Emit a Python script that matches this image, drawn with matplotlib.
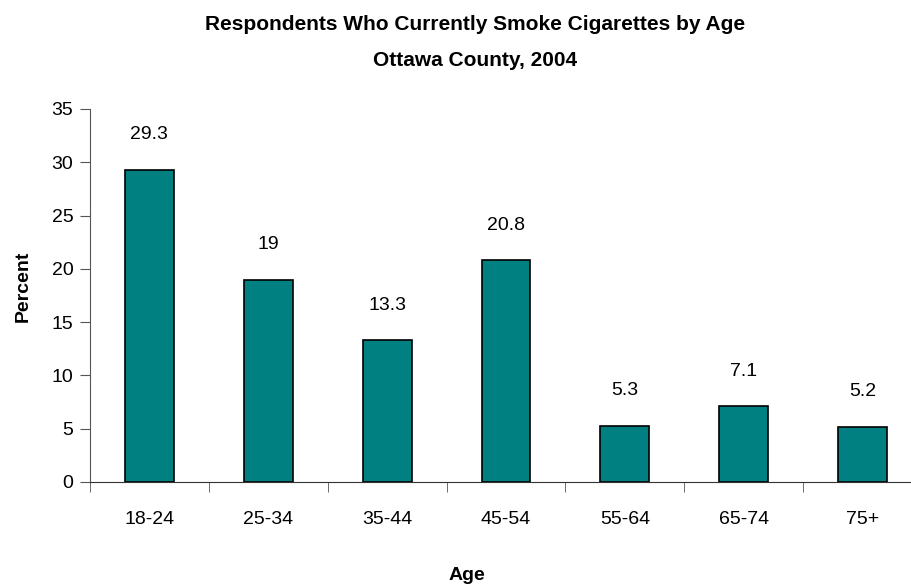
import matplotlib.pyplot as plt
import numpy as np

# Data
ages = ['18-24', '25-34', '35-44', '45-54', '55-64', '65-74', '75+']
percent = [29.3, 19, 13.3, 20.8, 5.3, 7.1, 5.2]
value_labels = ['29.3', '19', '13.3', '20.8', '5.3', '7.1', '5.2']

plt.rcParams['font.family'] = ['Liberation Sans', 'DejaVu Sans']

W, H = 911, 584
fig = plt.figure(figsize=(W / 100, H / 100), dpi=100)
# plot area runs a little past the right edge of the figure
ax = fig.add_axes([90 / W, 1 - 482 / H, 832 / W, 373 / H])

x = np.arange(len(ages))
ax.bar(x, percent, 0.41, color='#008080', edgecolor='black', linewidth=1.2)

for xi, v, lab in zip(x, percent, value_labels):
    ax.annotate(lab, (xi, v), xytext=(0, 19), textcoords='offset points',
                ha='center', va='bottom', fontsize=14)

ax.set_xlim(-0.5, len(ages) - 0.5)
ax.set_ylim(0, 35)
ax.set_yticks(range(0, 36, 5))
ax.set_xticks(x)
ax.set_xticklabels(ages, fontsize=14)
ax.set_xticks(np.arange(-0.5, len(ages), 1), minor=True)
ax.tick_params(axis='x', which='major', length=0, pad=21)
ax.tick_params(axis='x', which='minor', length=7, color='#555555', direction='out')
ax.tick_params(axis='y', labelsize=14, length=7, color='#555555', pad=5)

for side in ['top', 'right']:
    ax.spines[side].set_visible(False)
ax.spines['left'].set_color('#555555')
ax.spines['bottom'].set_color('#333333')

fig.text(23 / W, 1 - 286 / H, 'Percent', rotation=90, ha='center', va='center',
         fontsize=14, fontweight='bold')
fig.text(467 / W, 1 - 576 / H, 'Age', ha='center', va='center',
         fontsize=14, fontweight='bold')
fig.text(475 / W, 1 - 25 / H, 'Respondents Who Currently Smoke Cigarettes by Age',
         ha='center', va='center', fontsize=15, fontweight='bold')
fig.text(475 / W, 1 - 61 / H, 'Ottawa County, 2004',
         ha='center', va='center', fontsize=15, fontweight='bold')

fig.savefig('out.png', dpi=100)
